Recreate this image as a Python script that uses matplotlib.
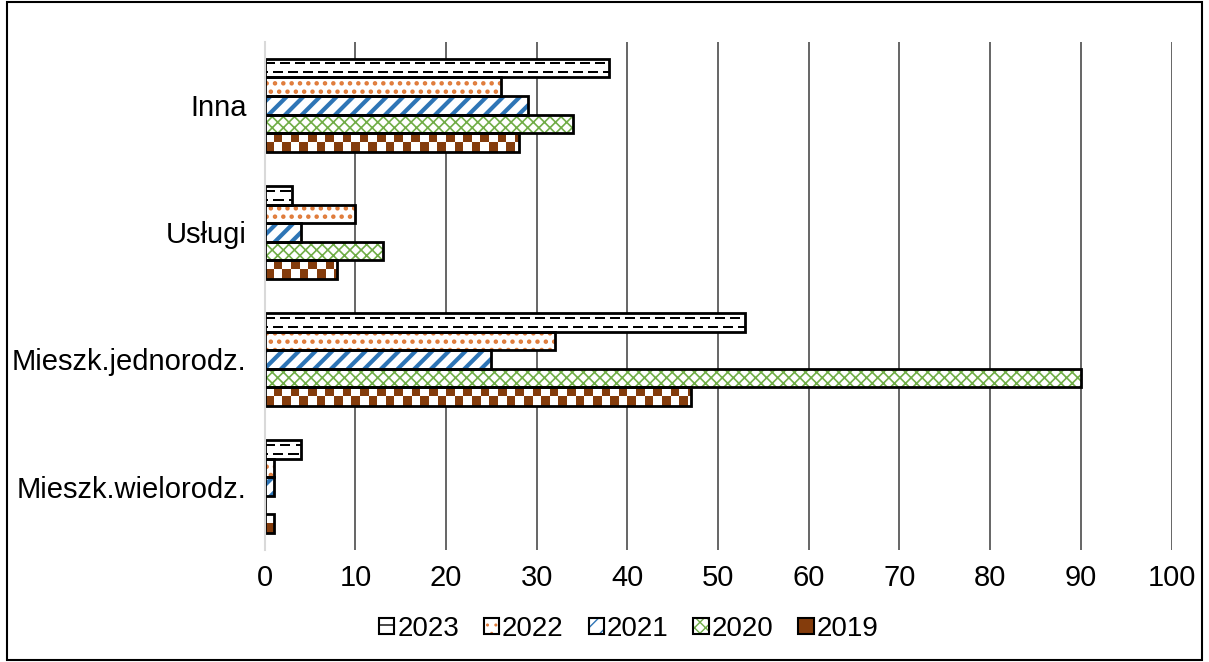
import numpy as np
import matplotlib.pyplot as plt
from matplotlib.colors import ListedColormap
from matplotlib.patches import Rectangle

plt.rcParams['font.family'] = ['Liberation Sans', 'DejaVu Sans']

categories = ["Inna", "Usługi", "Mieszk.jednorodz.", "Mieszk.wielorodz."]
years = ["2023", "2022", "2021", "2020", "2019"]
v2023 = [38, 3, 53, 4]
v2022 = [26, 10, 32, 1]
v2021 = [29, 4, 25, 1]
v2020 = [34, 13, 90, 0]
v2019 = [28, 8, 47, 1]
series = [v2023, v2022, v2021, v2020, v2019]

# hatch, hatch colour, hatch width per series
# "dash" and "checker" are drawn as small images clipped to the bar
styles = [("dash", "#000000", 1.6), ("..", "#e07b39", 2.0), ("//", "#2e75b6", 3.0),
          ("xxx", "#70ad47", 1.2), ("checker", "#843c0c", 1.0)]

# pixel tiles for the image patterns
checker = np.indices((2, 200)).sum(axis=0) % 2
dash = np.zeros((18, 1500))
cols = np.arange(1500)
dash[4:6, (cols % 15) < 10] = 1
dash[12:14, ((cols + 7) % 15) < 10] = 1
tiles = {"checker": (checker, 200 * 0.95), "dash": (dash, 1500 / 9.07)}

fig = plt.figure(figsize=(12.09, 6.62), dpi=100)
ax = fig.add_axes([0.219, 0.169, 0.750, 0.768])

bh = 0.146
ypos = np.arange(len(categories))

for i, (vals, (hatch, col, hw)) in enumerate(zip(series, styles)):
    y = ypos - 2 * bh + i * bh
    if hatch in tiles:
        tile, span = tiles[hatch]
        for yy, v in zip(y, vals):
            if v <= 0:
                continue
            im = ax.imshow(tile, cmap=ListedColormap(["white", col]),
                           extent=(0, span, yy + bh / 2, yy - bh / 2),
                           aspect="auto", interpolation="nearest", zorder=3)
            im.set_clip_path(Rectangle((0, yy - bh / 2), v, bh, transform=ax.transData))
    else:
        with plt.rc_context({'hatch.linewidth': hw}):
            ax.barh(y, vals, height=bh, color="white", edgecolor=col,
                    hatch=hatch, linewidth=0, zorder=3)
    ax.barh(y, vals, height=bh, fill=False, edgecolor="black",
            linewidth=2, zorder=4)

ax.set_xlim(0, 100)
ax.set_ylim(3.5, -0.5)
ax.set_xticks(np.arange(0, 101, 10))
ax.set_yticks(ypos)
ax.set_yticklabels(categories)
ax.tick_params(length=0, labelsize=21)
ax.tick_params(axis="x", pad=10)
ax.tick_params(axis="y", pad=13)
ax.xaxis.grid(True, color="#595959", linewidth=1.3, zorder=0)
ax.set_axisbelow(True)
for s in ["top", "right", "bottom"]:
    ax.spines[s].set_visible(False)
ax.spines["left"].set_color("#d9d9d9")
ax.spines["left"].set_linewidth(1.5)
ax.spines["left"].set_zorder(5)

handles = []
legend_hatch = {"dash": "-"}
for hatch, col, hw in styles:
    if hatch == "checker":
        inner = Rectangle((0, 0), 1, 1, facecolor=col, linewidth=0)
    else:
        with plt.rc_context({'hatch.linewidth': hw}):
            inner = Rectangle((0, 0), 1, 1, facecolor="white", edgecolor=col,
                              hatch=legend_hatch.get(hatch, hatch), linewidth=0)
    outline = Rectangle((0, 0), 1, 1, fill=False, edgecolor="black", linewidth=1.5)
    handles.append((inner, outline))
fig.legend(handles, years, loc="center", bbox_to_anchor=(0.52, 0.05), ncol=5,
           frameon=False, fontsize=20, handlelength=0.55, handleheight=0.55,
           handletextpad=0.1, columnspacing=0.9)

fig.patches.append(Rectangle((0.006, 0.003), 0.988, 0.994, transform=fig.transFigure,
                             fill=False, edgecolor="black", linewidth=1.5))

fig.savefig("out.png", dpi=100)
